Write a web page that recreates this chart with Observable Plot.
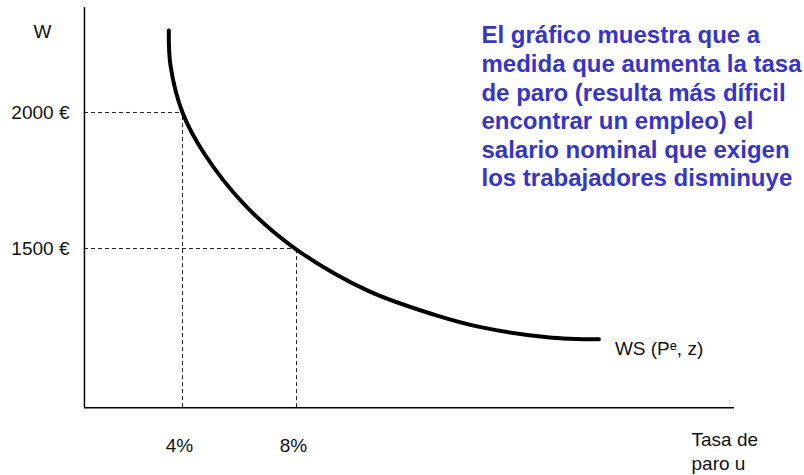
<!DOCTYPE html>
<html>
<head>
<meta charset="utf-8">
<script src="https://cdn.jsdelivr.net/npm/d3@7"></script>
<script src="https://cdn.jsdelivr.net/npm/@observablehq/plot@0.6"></script>
<style>
  html, body { margin: 0; padding: 0; background: #fff; }
  #chart svg { display: block; }
</style>
</head>
<body>
<div id="chart"></div>
<script>
// WS curve: unemployment rate (%) vs nominal wage (€)
const wsU = [3.52, 3.58, 4.0, 4.75, 6.15, 7.95, 10.48, 12.82, 14.46, 16.8, 18.61];
const wsW = [2301, 2173, 2000, 1851, 1664, 1500, 1346, 1257, 1211, 1174, 1166];

// reference points (dashed guides)
const refU = [4, 8];
const refW = [2000, 1500];
const xTickLabels = ["4%", "8%"];
const yTickLabels = ["2000 €", "1500 €"];

// axis extents
const axisU = [0.56, 23.37];
const axisW = [915, 2386];

const curveLabel = "WS (Pᵉ, z)";
const yAxisLabel = "W";
const xAxisLabel = "Tasa de\nparo u";
const note = "El gráfico muestra que a\nmedida que aumenta la tasa\nde paro (resulta más díficil\nencontrar un empleo) el\nsalario nominal que exigen\nlos trabajadores disminuye";

const curve = wsU.map((u, i) => ({u, w: wsW[i]}));
const refs = refU.map((u, i) => ({u, w: refW[i], xl: xTickLabels[i], yl: yTickLabels[i]}));

const font = "'Liberation Sans', Arial, sans-serif";

const chart = Plot.plot({
  width: 804,
  height: 475,
  margin: 0,
  style: {fontFamily: font, background: "#fff", overflow: "visible"},
  x: {domain: [-2.386, 25.825], range: [0, 804], axis: null},
  y: {domain: [665.6, 2411.7], range: [475, 0], axis: null},
  marks: [
    // dashed guides
    Plot.ruleY(refs, {y: "w", x1: axisU[0], x2: "u", stroke: "#222", strokeWidth: 1, strokeDasharray: "4,3"}),
    Plot.ruleX(refs, {x: "u", y1: axisW[0], y2: "w", stroke: "#222", strokeWidth: 1, strokeDasharray: "4,3"}),
    // axes
    Plot.ruleX([axisU[0]], {y1: axisW[0], y2: axisW[1], stroke: "#000", strokeWidth: 1.5}),
    Plot.ruleY([axisW[0]], {x1: axisU[0], x2: axisU[1], stroke: "#000", strokeWidth: 1.5}),
    // curve
    Plot.line(curve, {x: "u", y: "w", curve: "catmull-rom", stroke: "#000", strokeWidth: 4}),
    // tick labels
    Plot.text(refs, {x: axisU[0], y: "w", text: "yl", textAnchor: "end", dx: -15, fontSize: 19, fill: "#111"}),
    Plot.text(refs, {x: "u", y: axisW[0], text: "xl", dy: 38, dx: -3, fontSize: 19, fill: "#111"}),
    // axis labels
    Plot.text([yAxisLabel], {x: axisU[0], y: axisW[1], text: d => d, dx: -42, dy: 24, fontSize: 19, fill: "#111"}),
    Plot.text([xAxisLabel], {x: axisU[1], y: axisW[0], text: d => d, textAnchor: "start", dx: -43, dy: 43, lineHeight: 1.26, fontSize: 19, fill: "#111"}),
    Plot.text([curveLabel], {x: wsU[wsU.length - 1], y: wsW[wsW.length - 1], text: d => d, textAnchor: "start", dx: 16, dy: 10, fontSize: 19, fill: "#111"}),
    // annotation
    Plot.text([note], {x: 14.49, y: 2025, text: d => d, textAnchor: "start", lineAnchor: "middle", lineHeight: 1.19, fontSize: 24, fontWeight: "bold", fill: "#3535c8"})
  ]
});

document.getElementById("chart").appendChild(chart);
</script>
</body>
</html>
